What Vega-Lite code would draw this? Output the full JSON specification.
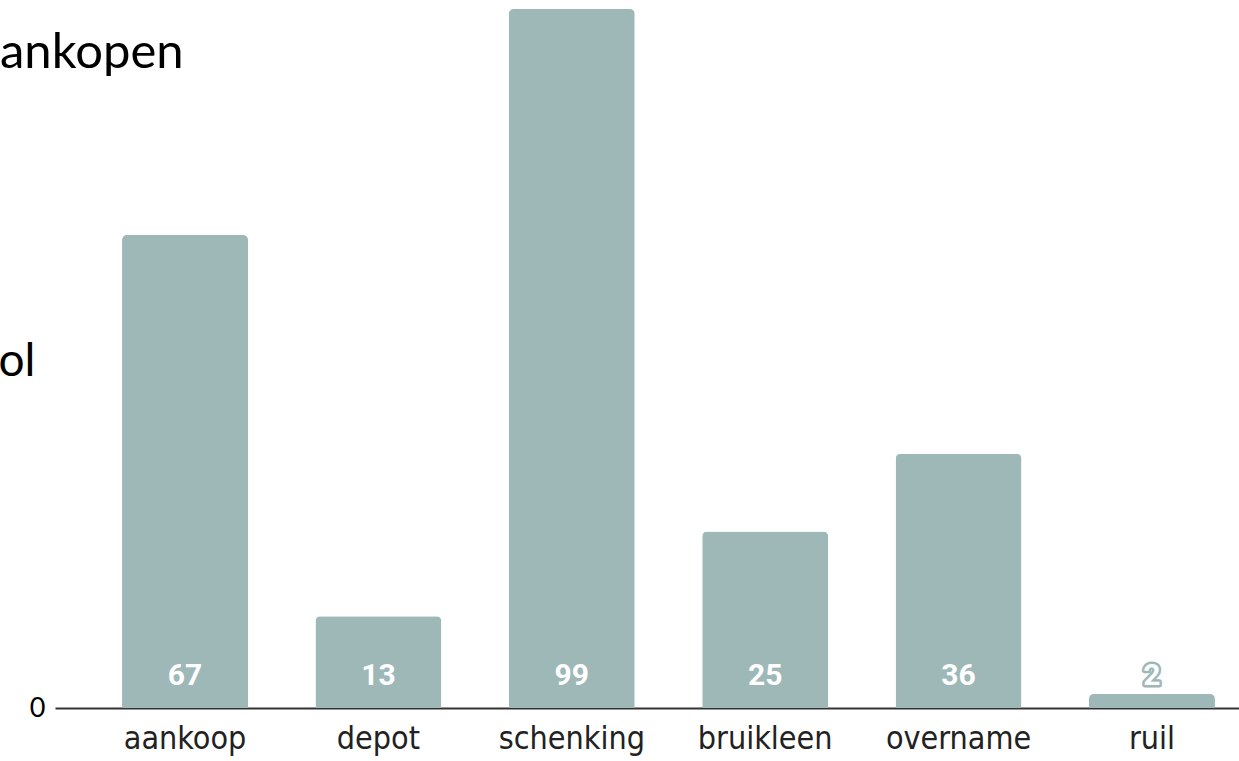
{
  "$schema": "https://vega.github.io/schema/vega-lite/v6.json",
  "autosize": {"type": "none"},
  "padding": {"left": 55, "top": 9, "right": 0, "bottom": 53},
  "width": 1184,
  "height": 699,
  "background": "white",
  "title": {
    "text": "ankopen",
    "anchor": "start",
    "frame": "group",
    "dx": -55,
    "dy": 108,
    "offset": 0,
    "baseline": "alphabetic",
    "font": "Lato",
    "fontSize": 49,
    "fontWeight": "normal",
    "color": "#000000"
  },
  "data": {
    "values": [
      {"categorie": "aankoop", "aantal": 67},
      {"categorie": "depot", "aantal": 13},
      {"categorie": "schenking", "aantal": 99},
      {"categorie": "bruikleen", "aantal": 25},
      {"categorie": "overname", "aantal": 36},
      {"categorie": "ruil", "aantal": 2}
    ]
  },
  "encoding": {
    "x": {
      "field": "categorie",
      "type": "nominal",
      "sort": null,
      "scale": {"paddingInner": 0.3486, "paddingOuter": 0.2355, "align": 0.736},
      "axis": {
        "title": null,
        "labelAngle": 0,
        "ticks": false,
        "domainColor": "#333333",
        "domainWidth": 2,
        "labelFont": "DejaVu Sans Condensed",
        "labelFontSize": 32,
        "labelColor": "#222222",
        "labelPadding": 15
      }
    }
  },
  "layer": [
    {
      "mark": {"type": "bar", "color": "#9eb8b7", "cornerRadiusTopLeft": 5, "cornerRadiusTopRight": 5},
      "encoding": {
        "y": {
          "field": "aantal",
          "type": "quantitative",
          "scale": {"domain": [0, 99], "nice": false},
          "axis": {
            "values": [0],
            "domain": false,
            "ticks": false,
            "grid": false,
            "labelFont": "Lato",
            "labelFontSize": 27,
            "labelColor": "#000000",
            "labelPadding": 10,
            "title": "ol",
            "titleAngle": 0,
            "titleX": -57,
            "titleY": 366,
            "titleAlign": "left",
            "titleBaseline": "alphabetic",
            "titleFont": "Lato",
            "titleFontSize": 46,
            "titleFontWeight": "normal",
            "titleColor": "#000000"
          }
        }
      }
    },
    {
      "mark": {"type": "text", "font": "Roboto", "fontWeight": "bold", "fontSize": 30, "baseline": "alphabetic", "dy": -23, "fill": "#9eb8b7", "stroke": "#9eb8b7", "strokeWidth": 5, "strokeJoin": "round"},
      "encoding": {
        "y": {"datum": 0},
        "text": {"field": "aantal", "type": "quantitative"}
      }
    },
    {
      "mark": {"type": "text", "font": "Roboto", "fontWeight": "bold", "fontSize": 30, "baseline": "alphabetic", "dy": -23, "fill": "#ffffff"},
      "encoding": {
        "y": {"datum": 0},
        "text": {"field": "aantal", "type": "quantitative"}
      }
    }
  ],
  "config": {"view": {"stroke": null}}
}
